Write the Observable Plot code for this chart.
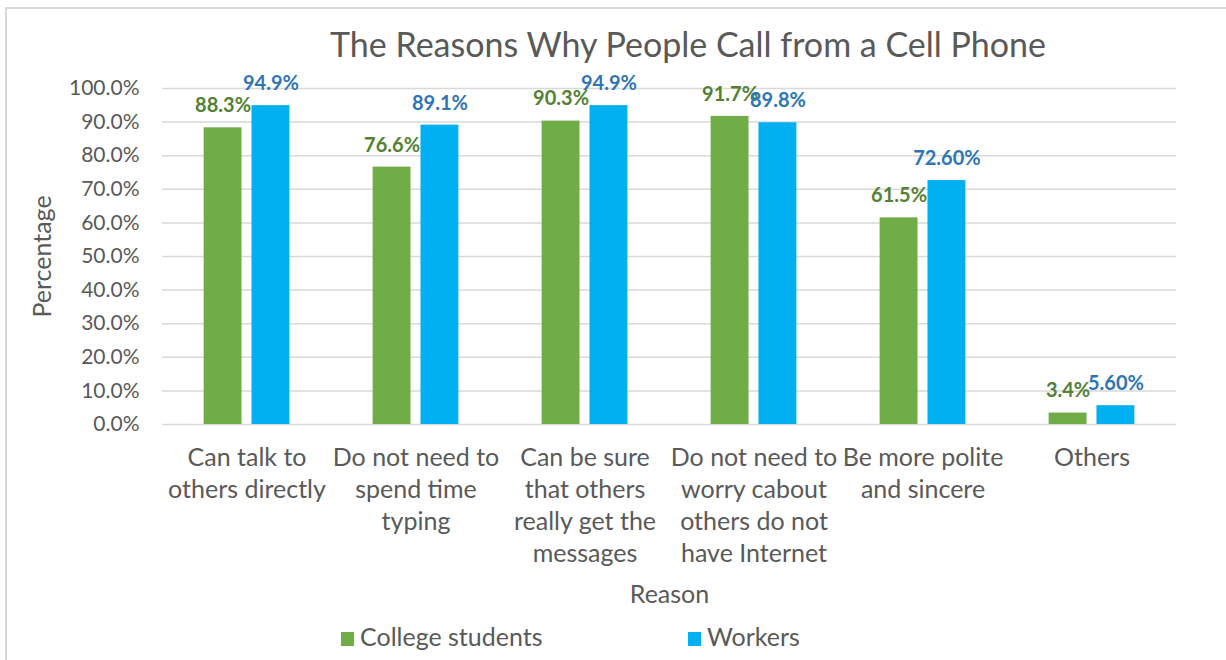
<!DOCTYPE html>
<html>
<head>
<meta charset="utf-8">
<script src="https://cdn.jsdelivr.net/npm/d3@7"></script>
<script src="https://cdn.jsdelivr.net/npm/@observablehq/plot@0.6"></script>
<style>
  html, body { margin: 0; padding: 0; width: 1226px; height: 660px; overflow: hidden; background: #fff; }
  body { position: relative; font-family: Lato, "Open Sans", sans-serif; color: #595959; }
  #frame { position: absolute; left: 5px; top: 7px; width: 1260px; height: 700px; border: 2px solid #d9d9d9; box-sizing: border-box; }
  #title { position: absolute; left: 0; top: 23px; width: 1376px; text-align: center; font-size: 34px; line-height: 42px; color: #595959; }
  #chart { position: absolute; left: 0; top: 70px; }
  #legend { position: absolute; top: 621px; left: 0; width: 1226px; height: 30px; font-size: 25px; color: #595959; }
  .item { position: absolute; top: 0; line-height: 30px; white-space: nowrap; }
  .sw { display: inline-block; width: 13px; height: 14px; margin-right: 6px; vertical-align: 0px; }
</style>
</head>
<body>
<div id="frame"></div>
<div id="title">The Reasons Why People Call from a Cell Phone</div>
<div id="chart"></div>
<div id="legend"></div>
<script>
const categories = [
  "Can talk to\nothers directly",
  "Do not need to\nspend time\ntyping",
  "Can be sure\nthat others\nreally get the\nmessages",
  "Do not need to\nworry cabout\nothers do not\nhave Internet",
  "Be more polite\nand sincere",
  "Others"
];
const seriesNames = ["College students", "Workers"];
const studentValues = [88.3, 76.6, 90.3, 91.7, 61.5, 3.4];
const workerValues = [94.9, 89.1, 94.9, 89.8, 72.6, 5.6];
const studentLabels = ["88.3%", "76.6%", "90.3%", "91.7%", "61.5%", "3.4%"];
const workerLabels = ["94.9%", "89.1%", "94.9%", "89.8%", "72.60%", "5.60%"];
const yTicks = [0, 10, 20, 30, 40, 50, 60, 70, 80, 90, 100];
const barColors = ["#70ad47", "#00b0f0"];
const labelColors = ["#538135", "#2e75b6"];

const data = [];
categories.forEach((c, i) => {
  data.push({category: c, series: seriesNames[0], value: studentValues[i], label: studentLabels[i]});
  data.push({category: c, series: seriesNames[1], value: workerValues[i], label: workerLabels[i]});
});

const svgTop = 70;
const chart = Plot.plot({
  width: 1226,
  height: 540,
  marginLeft: 160,
  marginRight: 49,
  marginTop: 88 - svgTop,
  marginBottom: 540 - (424 - svgTop),
  style: {fontFamily: "Lato, 'Open Sans', sans-serif", color: "#595959", background: "transparent"},
  fx: {domain: categories, padding: 0, label: null},
  x: {domain: seriesNames, paddingInner: 0.208, paddingOuter: 0.87, round: false, axis: null},
  y: {domain: [0, 100], label: null, axis: null},
  color: {domain: seriesNames, range: barColors},
  marks: [
    Plot.ruleY(yTicks, {y: d => d, stroke: "#d9d9d9", strokeWidth: 1.5}),
    Plot.axisY({ticks: yTicks, tickSize: 0, tickPadding: 23, tickFormat: d => d.toFixed(1) + "%", fontSize: 21, label: null, fill: "#595959", anchor: "left"}),
    Plot.barY(data, {fx: "category", x: "series", y: "value", fill: "series"}),
    Plot.text(data, {fx: "category", x: "series", y: "value", text: "label", dy: -22, fontSize: 20, fontWeight: "bold",
      fill: d => labelColors[seriesNames.indexOf(d.series)]}),
    Plot.axisFx({anchor: "bottom", tickSize: 0, tickPadding: 19, fontSize: 25, lineHeight: 1.28, fill: "#595959", label: null, textAnchor: "middle", lineAnchor: "top"}),
    Plot.text(["Reason"], {frameAnchor: "bottom", dy: 178, fontSize: 25, fill: "#595959", facet: "super"}),
    Plot.text(["Percentage"], {frameAnchor: "left", dx: -120, rotate: -90, textAnchor: "middle", fontSize: 25, fill: "#595959", facet: "super"})
  ]
});
document.getElementById("chart").appendChild(chart);

const legend = document.getElementById("legend");
const legendX = [341, 688];
seriesNames.forEach((s, i) => {
  const el = document.createElement("div");
  el.className = "item";
  el.style.left = legendX[i] + "px";
  el.innerHTML = `<span class="sw" style="background:${barColors[i]}"></span>${s}`;
  legend.appendChild(el);
});
</script>
</body>
</html>
